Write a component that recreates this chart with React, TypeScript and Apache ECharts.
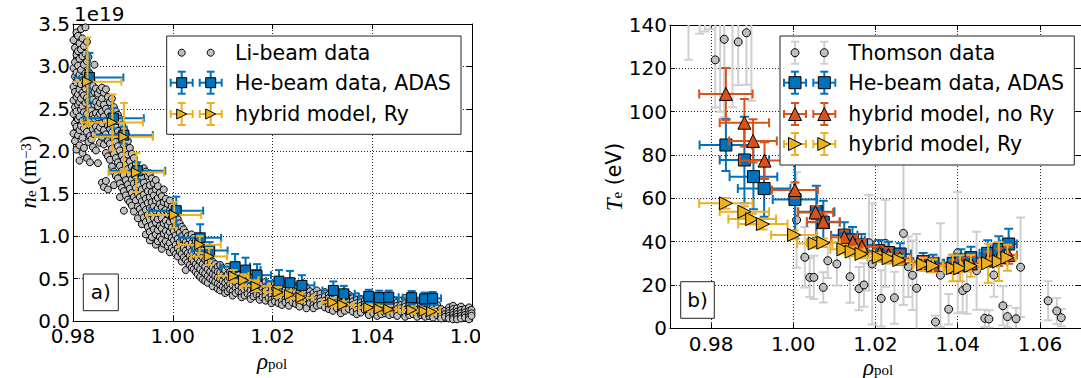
import React, { useEffect, useRef } from "react";
import * as echarts from "echarts";

// ---------------- Panel a) : electron density (units of 1e19 m^-3) ----------------
const xTicksA = [0.98, 1.0, 1.02, 1.04, 1.06];
const yTicksA = [0, 0.5, 1.0, 1.5, 2.0, 2.5, 3.0, 3.5];

// Li-beam data: each row = [rho_pol, n_e values at that rho ...]
const liBeamRows: number[][] = [
  [0.9801, 3.31, 2.98, 2.76, 2.6, 2.44, 2.21],
  [0.9804, 3.22, 3.05, 2.88, 2.7, 2.52, 2.33, 2.12],
  [0.9807, 3.4, 3.14, 2.93, 2.81, 2.64, 2.47, 2.29, 2.02],
  [0.981, 3.36, 3.18, 3.01, 2.85, 2.67, 2.55, 2.38, 2.19],
  [0.9813, 3.27, 3.09, 2.9, 2.73, 2.58, 2.41, 2.25, 2.07, 1.89],
  [0.9816, 3.44, 3.2, 2.96, 2.79, 2.62, 2.49, 2.3],
  [0.9819, 3.33, 3.12, 2.87, 2.69, 2.53, 2.36, 2.16, 1.98],
  [0.9822, 3.24, 3.02, 2.83, 2.66, 2.46, 2.27, 2.04],
  [0.9825, 3.46, 3.15, 2.92, 2.74, 2.57, 2.39],
  [0.9828, 3.29, 3.06, 2.86, 2.63, 2.44, 2.23, 1.92],
  [0.9831, 3.11, 2.94, 2.78, 2.59, 2.35, 2.11],
  [0.9834, 2.91, 2.71, 2.52, 2.37, 2.18, 1.87],
  [0.9837, 2.84, 2.66, 2.48, 2.31, 2.14],
  [0.984, 2.77, 2.61, 2.43, 2.26, 2.05],
  [0.9843, 3.02, 2.7, 2.55, 2.39, 2.2],
  [0.9846, 2.74, 2.58, 2.45, 2.29, 2.01],
  [0.985, 2.68, 2.53, 2.4, 2.24, 1.86],
  [0.9854, 2.72, 2.57, 2.44, 2.28, 2.1],
  [0.9858, 2.75, 2.62, 2.47, 2.33, 2.17, 1.63],
  [0.9862, 2.69, 2.55, 2.41, 2.25, 2.08, 1.58],
  [0.9866, 2.73, 2.5, 2.36, 2.2, 1.98, 1.65],
  [0.987, 2.64, 2.46, 2.3, 2.12, 1.94, 1.55],
  [0.9874, 2.58, 2.41, 2.27, 2.09, 1.9],
  [0.9878, 2.62, 2.37, 2.22, 2.03, 1.82],
  [0.9882, 2.52, 2.33, 2.15, 1.97, 1.76, 1.6],
  [0.9886, 2.47, 2.28, 2.11, 1.92, 1.71],
  [0.989, 2.43, 2.24, 2.06, 1.87, 1.68],
  [0.9894, 2.38, 2.19, 2.01, 1.83, 1.62, 1.46],
  [0.9898, 2.31, 2.14, 1.95, 1.77, 1.57],
  [0.9902, 2.26, 2.08, 1.9, 1.72, 1.53, 1.3],
  [0.9906, 2.2, 2.02, 1.84, 1.66, 1.48],
  [0.991, 2.12, 1.96, 1.79, 1.61, 1.43],
  [0.9914, 2.04, 1.88, 1.73, 1.56, 1.4],
  [0.9918, 1.97, 1.82, 1.67, 1.51, 1.36],
  [0.9922, 1.92, 1.77, 1.62, 1.46, 1.29],
  [0.9926, 1.85, 1.7, 1.57, 1.42],
  [0.993, 1.79, 1.64, 1.5, 1.35, 1.21],
  [0.9934, 1.74, 1.6, 1.46, 1.32],
  [0.9938, 1.69, 1.55, 1.41, 1.27, 1.14],
  [0.9942, 1.8, 1.63, 1.49, 1.36, 1.22],
  [0.9946, 1.76, 1.58, 1.44, 1.31, 1.17, 1.02],
  [0.995, 1.71, 1.53, 1.39, 1.25, 1.11],
  [0.9954, 1.74, 1.6, 1.46, 1.33, 1.19, 1.05, 0.95],
  [0.9958, 1.68, 1.52, 1.4, 1.27, 1.13, 0.99],
  [0.9962, 1.62, 1.48, 1.35, 1.21, 1.08],
  [0.9966, 1.66, 1.55, 1.42, 1.3, 1.16, 1.02, 0.9],
  [0.997, 1.59, 1.45, 1.33, 1.2, 1.07, 0.94],
  [0.9974, 1.51, 1.38, 1.26, 1.12, 0.99],
  [0.9978, 1.47, 1.34, 1.21, 1.09, 0.96, 0.85],
  [0.9982, 1.55, 1.4, 1.29, 1.15, 1.03, 0.91],
  [0.9986, 1.44, 1.31, 1.18, 1.06, 0.94],
  [0.999, 1.38, 1.26, 1.13, 1.01, 0.88],
  [0.9994, 1.42, 1.3, 1.17, 1.05, 0.92, 0.81],
  [0.9998, 1.35, 1.22, 1.1, 0.98, 0.86],
  [1.0002, 1.29, 1.18, 1.06, 0.95, 0.83],
  [1.0006, 1.24, 1.12, 1.01, 0.9, 0.79],
  [1.001, 1.2, 1.08, 0.97, 0.86, 0.76],
  [1.0014, 1.15, 1.04, 0.93, 0.82],
  [1.0018, 1.11, 1.0, 0.89, 0.79, 0.7],
  [1.0022, 1.08, 0.96, 0.86, 0.75],
  [1.0026, 1.04, 0.93, 0.83, 0.72, 0.6],
  [1.003, 1.0, 0.9, 0.8, 0.69],
  [1.0034, 0.97, 0.87, 0.77, 0.66],
  [1.0038, 1.02, 0.92, 0.82, 0.73, 0.63],
  [1.0042, 0.98, 0.88, 0.79, 0.7, 0.61],
  [1.0046, 0.94, 0.85, 0.76, 0.67, 0.58],
  [1.005, 0.91, 0.82, 0.73, 0.64, 0.55],
  [1.0055, 0.87, 0.78, 0.7, 0.61, 0.52],
  [1.006, 0.83, 0.75, 0.67, 0.58, 0.49],
  [1.0065, 0.8, 0.72, 0.64, 0.56, 0.47],
  [1.007, 0.76, 0.69, 0.61, 0.53, 0.45],
  [1.0075, 0.73, 0.66, 0.58, 0.5],
  [1.008, 0.7, 0.63, 0.55, 0.48, 0.41],
  [1.0085, 0.67, 0.6, 0.53, 0.46],
  [1.009, 0.64, 0.58, 0.51, 0.44, 0.38],
  [1.0095, 0.66, 0.57, 0.49, 0.42, 0.36],
  [1.01, 0.62, 0.54, 0.47, 0.4],
  [1.0105, 0.6, 0.52, 0.45, 0.38, 0.33],
  [1.011, 0.64, 0.55, 0.48, 0.41, 0.35],
  [1.0115, 0.58, 0.5, 0.43, 0.37],
  [1.012, 0.56, 0.48, 0.42, 0.35, 0.3],
  [1.0126, 0.6, 0.52, 0.45, 0.39, 0.33],
  [1.0132, 0.54, 0.47, 0.41, 0.35],
  [1.0138, 0.51, 0.45, 0.39, 0.33, 0.28],
  [1.0144, 0.55, 0.48, 0.42, 0.36, 0.3],
  [1.015, 0.5, 0.44, 0.38, 0.32],
  [1.0156, 0.47, 0.41, 0.36, 0.3, 0.26],
  [1.0162, 0.52, 0.45, 0.39, 0.34, 0.29],
  [1.0168, 0.48, 0.42, 0.37, 0.31],
  [1.0174, 0.45, 0.4, 0.35, 0.3, 0.25],
  [1.018, 0.43, 0.38, 0.33, 0.28],
  [1.0186, 0.46, 0.4, 0.35, 0.29, 0.24],
  [1.0192, 0.42, 0.37, 0.32, 0.27],
  [1.0198, 0.4, 0.35, 0.3, 0.25, 0.21],
  [1.0205, 0.44, 0.38, 0.33, 0.28, 0.23],
  [1.0212, 0.41, 0.36, 0.31, 0.26, 0.21],
  [1.0219, 0.39, 0.34, 0.29, 0.24, 0.19],
  [1.0226, 0.42, 0.36, 0.31, 0.26, 0.22],
  [1.0233, 0.38, 0.33, 0.28, 0.23, 0.18],
  [1.024, 0.36, 0.31, 0.27, 0.22],
  [1.0247, 0.39, 0.34, 0.29, 0.25, 0.2],
  [1.0254, 0.35, 0.3, 0.26, 0.21, 0.17],
  [1.0261, 0.37, 0.32, 0.27, 0.23],
  [1.0268, 0.4, 0.34, 0.29, 0.24, 0.19, 0.15],
  [1.0275, 0.35, 0.3, 0.25, 0.21],
  [1.0282, 0.33, 0.28, 0.24, 0.19, 0.15],
  [1.0289, 0.36, 0.31, 0.26, 0.22, 0.18],
  [1.0296, 0.32, 0.27, 0.23, 0.19],
  [1.0305, 0.34, 0.29, 0.24, 0.2, 0.16],
  [1.0313, 0.31, 0.27, 0.22, 0.18, 0.14],
  [1.0321, 0.38, 0.3, 0.25, 0.21, 0.17, 0.12],
  [1.0329, 0.33, 0.28, 0.23, 0.19, 0.15],
  [1.0337, 0.3, 0.26, 0.21, 0.17, 0.13, 0.09],
  [1.0345, 0.28, 0.24, 0.2, 0.16, 0.12],
  [1.0353, 0.31, 0.26, 0.22, 0.18, 0.14],
  [1.0361, 0.27, 0.23, 0.19, 0.15, 0.11],
  [1.0369, 0.29, 0.25, 0.21, 0.17, 0.13, 0.08],
  [1.0377, 0.26, 0.22, 0.18, 0.14, 0.1],
  [1.0385, 0.24, 0.2, 0.17, 0.13],
  [1.0393, 0.27, 0.23, 0.19, 0.15, 0.11, 0.07],
  [1.0402, 0.25, 0.21, 0.17, 0.13, 0.09],
  [1.041, 0.28, 0.22, 0.18, 0.14, 0.1, 0.06],
  [1.0418, 0.24, 0.2, 0.16, 0.12, 0.08],
  [1.0426, 0.26, 0.21, 0.17, 0.13, 0.09],
  [1.0434, 0.23, 0.19, 0.15, 0.11, 0.07],
  [1.0442, 0.25, 0.2, 0.16, 0.12, 0.08],
  [1.045, 0.22, 0.18, 0.14, 0.1, 0.06],
  [1.0458, 0.24, 0.19, 0.15, 0.11],
  [1.0466, 0.27, 0.21, 0.17, 0.13, 0.09, 0.05],
  [1.0474, 0.23, 0.18, 0.14, 0.1, 0.07],
  [1.0482, 0.25, 0.2, 0.16, 0.12, 0.08],
  [1.049, 0.22, 0.17, 0.13, 0.09, 0.05],
  [1.0498, 0.24, 0.19, 0.15, 0.11, 0.07],
  [1.0506, 0.21, 0.17, 0.13, 0.09, 0.05],
  [1.0514, 0.23, 0.18, 0.14, 0.1, 0.06],
  [1.0522, 0.2, 0.16, 0.12, 0.08, 0.04],
  [1.053, 0.19, 0.15, 0.11, 0.07],
  [1.0538, 0.14, 0.1, 0.06, 0.03],
  [1.0546, 0.12, 0.08, 0.05],
  [1.0554, 0.16, 0.12, 0.09, 0.06, 0.03],
  [1.0562, 0.18, 0.14, 0.1, 0.07, 0.04, 0.02],
  [1.057, 0.15, 0.11, 0.08, 0.05, 0.02],
  [1.0578, 0.17, 0.13, 0.09, 0.06, 0.03],
  [1.0586, 0.14, 0.1, 0.07, 0.04],
  [1.0594, 0.16, 0.12, 0.08, 0.05, 0.02],
  [1.0599, 0.13, 0.09, 0.06],
];

// He-beam data, ADAS (panel a)
const heNeX = [0.9833, 0.9881, 0.9902, 0.9929, 1.0007, 1.0055, 1.0074, 1.0125, 1.0146, 1.0169, 1.0213, 1.0235, 1.0259, 1.0322, 1.0343, 1.0393, 1.0414, 1.0433, 1.0479, 1.0505, 1.0521];
const heNe = [2.87, 2.39, 2.19, 1.77, 1.3, 0.98, 0.83, 0.64, 0.6, 0.54, 0.47, 0.45, 0.42, 0.36, 0.32, 0.29, 0.275, 0.28, 0.275, 0.26, 0.267];
const heNeErr = [0.29, 0.12, 0.1, 0.1, 0.165, 0.16, 0.1, 0.15, 0.146, 0.13, 0.13, 0.14, 0.12, 0.106, 0.094, 0.078, 0.082, 0.078, 0.078, 0.075, 0.075];
const heNeXErr = [0.0068, 0.0061, 0.0058, 0.0056, 0.0054, 0.0042, 0.0036, 0.003, 0.003, 0.0028, 0.0026, 0.0026, 0.0025, 0.0022, 0.0022, 0.002, 0.002, 0.002, 0.0018, 0.0018, 0.0017];

// hybrid model, Ry (panel a)
const ryNeX = [0.9829, 0.9879, 0.9902, 0.9927, 1.0003, 1.0054, 1.0073, 1.0122, 1.0142, 1.0167, 1.0211, 1.0234, 1.0257, 1.0321, 1.0341, 1.0393, 1.0414, 1.0433, 1.0479, 1.0504, 1.0519];
const ryNe = [2.82, 2.34, 2.17, 1.75, 1.25, 0.9, 0.76, 0.53, 0.48, 0.41, 0.34, 0.31, 0.275, 0.22, 0.19, 0.157, 0.141, 0.138, 0.13, 0.114, 0.11];
const ryNeErr = [0.52, 0.33, 0.4, 0.23, 0.15, 0.1, 0.1, 0.07, 0.07, 0.06, 0.06, 0.05, 0.05, 0.05, 0.04, 0.04, 0.04, 0.04, 0.04, 0.035, 0.035];
const ryNeXErr = [0.0068, 0.0061, 0.0058, 0.0056, 0.0054, 0.0042, 0.0036, 0.003, 0.003, 0.0028, 0.0026, 0.0026, 0.0025, 0.0022, 0.0022, 0.002, 0.002, 0.002, 0.0018, 0.0018, 0.0017];

// ---------------- Panel b) : electron temperature (eV) ----------------
const xTicksB = [0.98, 1.0, 1.02, 1.04, 1.06];
const yTicksB = [0, 20, 40, 60, 80, 100, 120, 140];
const xRangeB = [0.97, 1.07];

// Thomson data
const thX = [0.9745, 0.9772, 0.9785, 0.9798, 0.981, 0.9822, 0.9832, 0.9852, 0.9866, 0.9886, 0.9898, 1.0008, 1.0028, 1.004, 1.005, 1.0073, 1.0084, 1.0106, 1.0138, 1.016, 1.0172, 1.0184, 1.0192, 1.0214, 1.0224, 1.0246, 1.0268, 1.028, 1.029, 1.03, 1.0346, 1.0358, 1.0378, 1.04, 1.0412, 1.0422, 1.0446, 1.0466, 1.0476, 1.0488, 1.051, 1.0521, 1.0542, 1.0553, 1.062, 1.0641, 1.0652];
const thTe = [152, 160, 165, 152, 123.9, 148, 133.4, 142, 132.2, 136.4, 150, 50, 32.8, 23.5, 23.5, 18.9, 31.2, 29.7, 23.8, 18.3, 20, 39.5, 29.7, 13.8, 39.2, 14.1, 43.8, 28.4, 24.5, 18.5, 2.9, 24.5, 8.8, 34.9, 17.4, 18.7, 26.6, 4.6, 4.3, 24.6, 10.4, 5.4, 4.4, 28.2, 12.7, 8, 4.9];
const thTeErr = [28, 24, 28, 14, 22, 48, 36, 40, 20, 24, 45, 22, 14, 9, 10, 7, 8, 10, 12, 10, 10, 22, 28, 13, 20, 12, 33, 14, 16, 25, 3, 24, 7, 28, 10, 12, 18, 4, 4, 10, 9, 5, 5, 23, 9, 6, 4];

// He-beam data, ADAS (panel b)
const heTeX = [0.9836, 0.9881, 0.9903, 0.9929, 1.0004, 1.0056, 1.0073, 1.0124, 1.0144, 1.0166, 1.0208, 1.0232, 1.026, 1.0316, 1.034, 1.0389, 1.0408, 1.0432, 1.0473, 1.05, 1.0524];
const heTe = [84.6, 77.7, 70.0, 64.5, 59.5, 53.8, 48.9, 43.0, 40.8, 38.5, 35.8, 35.0, 34.3, 30.8, 30.0, 30.0, 31.5, 32.6, 34.6, 36.5, 38.9];
const heTeErr = [12, 20, 15, 13, 18, 12, 10, 6, 6, 5, 5, 5, 5, 4, 4, 4, 5, 5, 6, 6, 7];
const heTeXErr = [0.0064, 0.006, 0.0058, 0.0064, 0.0054, 0.0044, 0.004, 0.0032, 0.003, 0.003, 0.0028, 0.0027, 0.0026, 0.0024, 0.0024, 0.0022, 0.0022, 0.0022, 0.002, 0.002, 0.002];

// hybrid model, no Ry (panel b)
const noRyTeX = [0.9836, 0.9881, 0.9902, 0.993, 1.0004, 1.0054, 1.0073, 1.0124, 1.0145, 1.0167, 1.021, 1.0232, 1.026, 1.0316, 1.034, 1.0389, 1.0408, 1.0432, 1.0473, 1.05, 1.0524];
const noRyTe = [108.2, 94.9, 86.5, 77.4, 63.8, 53.5, 49.2, 42.0, 39.7, 37.7, 34.6, 33.8, 32.3, 30.0, 29.3, 28.4, 29.3, 30.0, 31.8, 32.8, 33.8];
const noRyTeErr = [12, 11, 10, 8.5, 3.5, 3, 3, 3, 3, 3, 3, 3, 3, 3, 3, 3, 3, 3, 3.5, 4, 4];
const noRyTeXErr = [0.0065, 0.006, 0.0058, 0.006, 0.0056, 0.0043, 0.004, 0.0032, 0.003, 0.003, 0.0028, 0.0027, 0.0026, 0.0024, 0.0024, 0.0022, 0.0022, 0.0022, 0.002, 0.002, 0.002];

// hybrid model, Ry (panel b)
const ryTeX = [0.9836, 0.9881, 0.99, 0.9926, 1.0002, 1.0052, 1.0073, 1.0122, 1.0142, 1.0166, 1.0208, 1.0232, 1.0258, 1.0316, 1.034, 1.0388, 1.0406, 1.0432, 1.0474, 1.05, 1.0521];
const ryTe = [57.7, 53.8, 50.4, 48.1, 43.1, 39.2, 39.5, 36.5, 35.4, 34.3, 32.8, 32.3, 31.5, 29.5, 28.8, 27.7, 27.7, 28.8, 30.0, 30.8, 32.6];
const ryTeErr = [2.5, 2.5, 2.5, 2.5, 2, 2, 2, 2, 2, 2, 2, 2, 2, 3, 3, 6, 6, 5, 9, 9, 6];
const ryTeXErr = [0.0065, 0.006, 0.0058, 0.006, 0.0056, 0.0043, 0.004, 0.0032, 0.003, 0.003, 0.0028, 0.0027, 0.0026, 0.0024, 0.0024, 0.0022, 0.0022, 0.0022, 0.002, 0.002, 0.002];

// ---------------- styling ----------------
const BLUE = "#0072bd";
const RED = "#d95319";
const YELLOW = "#edb120";
const GRAY = "#bfbfbf";
const ERRGRAY = "#cfcfcf";
const SANS = "DejaVu Sans";
const SERIF = "Liberation Serif";
const TRI_RIGHT = "path://M0,0L2,1L0,2Z";

function rows(xs: number[], ys: number[], xe: number[] | null, ye: number[]) {
  return xs.map((x, i) => [x, ys[i], xe ? xe[i] : 0, ye[i]]);
}

function errorBars(data: number[][], xi: number, yi: number, color: string, lw: number, cap: number, z: number) {
  return {
    type: "custom",
    xAxisIndex: xi,
    yAxisIndex: yi,
    z,
    clip: true,
    silent: true,
    data,
    encode: { x: 0, y: 1 },
    renderItem: (_p: any, api: any) => {
      const x = api.value(0), y = api.value(1), xe = api.value(2), ye = api.value(3);
      const c = api.coord([x, y]);
      const ch: any[] = [];
      const st = { stroke: color, lineWidth: lw, fill: null };
      const ln = (x1: number, y1: number, x2: number, y2: number) =>
        ch.push({ type: "line", shape: { x1, y1, x2, y2 }, style: st });
      if (xe > 0) {
        const l = api.coord([x - xe, y])[0];
        const r = api.coord([x + xe, y])[0];
        ln(l, c[1], r, c[1]);
        ln(l, c[1] - cap, l, c[1] + cap);
        ln(r, c[1] - cap, r, c[1] + cap);
      }
      if (ye > 0) {
        const t = api.coord([x, y + ye])[1];
        const b = api.coord([x, y - ye])[1];
        ln(c[0], t, c[0], b);
        ln(c[0] - cap, t, c[0] + cap, t);
        ln(c[0] - cap, b, c[0] + cap, b);
      }
      return { type: "group", children: ch };
    },
  };
}

function markers(data: number[][], xi: number, yi: number, symbol: string, size: number, color: string, z: number) {
  return {
    type: "scatter",
    xAxisIndex: xi,
    yAxisIndex: yi,
    z,
    clip: true,
    silent: true,
    symbol,
    symbolSize: size,
    data: data.map((d) => [d[0], d[1]]),
    itemStyle: { color, borderColor: "#000", borderWidth: 1, opacity: 1 },
  };
}

function xAxisDef(grid: number, ticks: number[], range: number[] | null, pos: "bottom" | "top", margin: number) {
  const isMain = pos === "bottom";
  const ax: any = {
    type: "value",
    gridIndex: grid,
    position: pos,
    min: range ? range[0] : ticks[0],
    max: range ? range[1] : ticks[ticks.length - 1],
    axisLine: { show: true, onZero: false, lineStyle: { color: "#000", width: 1 } },
    axisTick: { show: true, inside: true, length: 5, lineStyle: { color: "#000", width: 1 } },
    axisLabel: {
      show: isMain,
      margin,
      color: "#000",
      fontFamily: SANS,
      fontSize: 20,
      formatter: (v: number) => v.toFixed(2),
    },
    splitLine: { show: isMain, lineStyle: { color: "#222", type: [1, 2], width: 1 } },
  };
  if (range) {
    ax.axisLabel.customValues = ticks;
    ax.axisTick.customValues = ticks;
  } else {
    ax.interval = ticks[1] - ticks[0];
  }
  return ax;
}

function yAxisDef(grid: number, ticks: number[], pos: "left" | "right", digits: number) {
  const isMain = pos === "left";
  return {
    type: "value",
    gridIndex: grid,
    position: pos,
    min: ticks[0],
    max: ticks[ticks.length - 1],
    interval: ticks[1] - ticks[0],
    axisLine: { show: true, onZero: false, lineStyle: { color: "#000", width: 1 } },
    axisTick: { show: true, inside: true, length: 5, lineStyle: { color: "#000", width: 1 } },
    axisLabel: {
      show: isMain,
      margin: 3,
      color: "#000",
      fontFamily: SANS,
      fontSize: 20,
      formatter: (v: number) => v.toFixed(digits),
    },
    splitLine: { show: isMain, lineStyle: { color: "#222", type: [1, 2], width: 1 } },
  };
}

function markerShape(kind: string, cx: number, cy: number, s: number, fill: string): any {
  const style = { fill, stroke: "#000", lineWidth: 1 };
  const h = s / 2;
  if (kind === "circle") return { type: "circle", z: 103, shape: { cx, cy, r: h }, style };
  if (kind === "square") return { type: "rect", z: 103, shape: { x: cx - h, y: cy - h, width: s, height: s }, style };
  if (kind === "triUp")
    return { type: "polygon", z: 103, shape: { points: [[cx, cy - h], [cx + h, cy + h], [cx - h, cy + h]] }, style };
  return { type: "polygon", z: 103, shape: { points: [[cx + h, cy], [cx - h, cy - h], [cx - h, cy + h]] }, style };
}

type Entry = { y: number; label: string; kind: string; size: number; fill: string; err: string | null; xErr: boolean };

function legend(x: number, y: number, w: number, h: number, mx: number[], tx: number, entries: Entry[]) {
  const els: any[] = [
    { type: "rect", z: 100, shape: { x, y, width: w, height: h }, style: { fill: "#fff", stroke: "#222", lineWidth: 1 } },
  ];
  entries.forEach((e) => {
    mx.forEach((cx) => {
      if (e.err) {
        const st = { stroke: e.err, lineWidth: 2 };
        const L = 11, C = 4;
        if (e.xErr) {
          els.push({ type: "line", z: 101, shape: { x1: cx - L, y1: e.y, x2: cx + L, y2: e.y }, style: st });
          els.push({ type: "line", z: 101, shape: { x1: cx - L, y1: e.y - C, x2: cx - L, y2: e.y + C }, style: st });
          els.push({ type: "line", z: 101, shape: { x1: cx + L, y1: e.y - C, x2: cx + L, y2: e.y + C }, style: st });
        }
        els.push({ type: "line", z: 101, shape: { x1: cx, y1: e.y - L, x2: cx, y2: e.y + L }, style: st });
        els.push({ type: "line", z: 101, shape: { x1: cx - C, y1: e.y - L, x2: cx + C, y2: e.y - L }, style: st });
        els.push({ type: "line", z: 101, shape: { x1: cx - C, y1: e.y + L, x2: cx + C, y2: e.y + L }, style: st });
      }
      els.push(markerShape(e.kind, cx, e.y, e.size, e.fill));
    });
    els.push({
      type: "text",
      z: 104,
      x: tx,
      y: e.y,
      style: { text: e.label, fill: "#000", fontFamily: SANS, fontSize: 20.5, align: "left", verticalAlign: "middle", textAlign: "left", textVerticalAlign: "middle" },
    });
  });
  return els;
}

function boxLabel(x: number, y: number, w: number, h: number, t: string) {
  return [
    { type: "rect", z: 100, shape: { x, y, width: w, height: h }, style: { fill: "#fff", stroke: "#222", lineWidth: 1 } },
    {
      type: "text", z: 101, x: x + w / 2, y: y + h / 2,
      style: { text: t, fill: "#000", fontFamily: SANS, fontSize: 20, align: "center", verticalAlign: "middle", textAlign: "center", textVerticalAlign: "middle" },
    },
  ];
}

const mainTok = { fontFamily: SERIF, fontSize: 23, lineHeight: 20, fill: "#000", color: "#000" };
const smallTok = { fontFamily: SERIF, fontSize: 15, lineHeight: 10, fill: "#000", color: "#000" };

function richTitle(x: number, y: number, text: string, rot: number) {
  return {
    type: "text",
    z: 50,
    x,
    y,
    rotation: rot,
    style: {
      text,
      align: "center",
      verticalAlign: "middle",
      textAlign: "center",
      textVerticalAlign: "middle",
      fill: "#000",
      rich: {
        i: { ...mainTok, fontStyle: "italic" },
        r: { ...mainTok },
        s: { ...smallTok, verticalAlign: "bottom" },
        p: { ...smallTok, verticalAlign: "top" },
        t: { fontFamily: SANS, fontSize: 20.5, lineHeight: 20, fill: "#000", color: "#000" },
      },
    },
  };
}

export default function App() {
  const ref = useRef<HTMLDivElement>(null);
  useEffect(() => {
    if (!ref.current) return;
    const chart = echarts.init(ref.current, null, { renderer: "svg" });

    const liData = liBeamRows.flatMap((r) => r.slice(1).map((v) => [r[0], v]));
    const heA = rows(heNeX, heNe, heNeXErr, heNeErr);
    const ryA = rows(ryNeX, ryNe, ryNeXErr, ryNeErr);
    const thB = rows(thX, thTe, null, thTeErr);
    const heB = rows(heTeX, heTe, heTeXErr, heTeErr);
    const noB = rows(noRyTeX, noRyTe, noRyTeXErr, noRyTeErr);
    const ryB = rows(ryTeX, ryTe, ryTeXErr, ryTeErr);

    const option: any = {
      animation: false,
      backgroundColor: "#ffffff",
      grid: [
        { left: 73, top: 24, width: 399, height: 297 },
        { left: 670, top: 25, width: 416, height: 303.3 },
      ],
      xAxis: [
        xAxisDef(0, xTicksA, null, "bottom", 5),
        xAxisDef(0, xTicksA, null, "top", 5),
        xAxisDef(1, xTicksB, xRangeB, "bottom", 6),
        xAxisDef(1, xTicksB, xRangeB, "top", 6),
      ],
      yAxis: [
        yAxisDef(0, yTicksA, "left", 1),
        yAxisDef(0, yTicksA, "right", 1),
        yAxisDef(1, yTicksB, "left", 0),
        yAxisDef(1, yTicksB, "right", 0),
      ],
      series: [
        markers(liData, 0, 0, "circle", 7, GRAY, 2),
        errorBars(heA, 0, 0, BLUE, 2, 4, 3),
        markers(heA, 0, 0, "rect", 10, BLUE, 4),
        errorBars(ryA, 0, 0, YELLOW, 2, 4, 5),
        markers(ryA, 0, 0, TRI_RIGHT, 10, YELLOW, 6),

        errorBars(thB, 2, 2, ERRGRAY, 2, 4.5, 2),
        markers(thB, 2, 2, "circle", 8, GRAY, 3),
        errorBars(heB, 2, 2, BLUE, 2, 4.5, 4),
        markers(heB, 2, 2, "rect", 12, BLUE, 5),
        errorBars(noB, 2, 2, RED, 2, 4.5, 6),
        markers(noB, 2, 2, "triangle", 13, RED, 7),
        errorBars(ryB, 2, 2, YELLOW, 2, 4.5, 8),
        markers(ryB, 2, 2, TRI_RIGHT, 13, YELLOW, 9),
      ],
      graphic: [
        // crop of the left panel's last tick label
        { type: "rect", z: 120, shape: { x: 480, y: 323, width: 60, height: 55 }, style: { fill: "#fff" } },
        {
          type: "text", z: 50, x: 74, y: 14,
          style: { text: "1e19", fill: "#000", fontFamily: SANS, fontSize: 20, align: "left", verticalAlign: "middle", textAlign: "left", textVerticalAlign: "middle" },
        },
        richTitle(272, 361, "{i|ρ}{s|pol}", 0),
        richTitle(878, 367, "{i|ρ}{s|pol}", 0),
        richTitle(28, 172, "{i|n}{s|e}{r| (m}{p|−3}{r|)}", Math.PI / 2),
        richTitle(614, 177, "{i|T}{s|e}{t| (eV)}", Math.PI / 2),
        ...boxLabel(83.3, 274, 35, 36.7, "a)"),
        ...boxLabel(680.7, 281.7, 33.6, 36.6, "b)"),
        ...legend(166.7, 36, 294.3, 98.3, [181.7, 210.7], 235, [
          { y: 52.7, label: "Li-beam data", kind: "circle", size: 7, fill: GRAY, err: null, xErr: false },
          { y: 82.7, label: "He-beam data, ADAS", kind: "square", size: 10, fill: BLUE, err: BLUE, xErr: true },
          { y: 114, label: "hybrid model, Ry", kind: "triRight", size: 10, fill: YELLOW, err: YELLOW, xErr: true },
        ]),
        ...legend(780, 36, 294.3, 129, [795, 824.3], 848.3, [
          { y: 52.7, label: "Thomson data", kind: "circle", size: 8, fill: GRAY, err: ERRGRAY, xErr: false },
          { y: 82.7, label: "He-beam data, ADAS", kind: "square", size: 12, fill: BLUE, err: BLUE, xErr: true },
          { y: 114, label: "hybrid model, no Ry", kind: "triUp", size: 13, fill: RED, err: RED, xErr: true },
          { y: 144, label: "hybrid model, Ry", kind: "triRight", size: 13, fill: YELLOW, err: YELLOW, xErr: true },
        ]),
      ],
    };
    chart.setOption(option);
    return () => chart.dispose();
  }, []);
  return (
    <div
      ref={ref}
      style={{ position: "absolute", left: 0, top: 0, width: 1081, height: 378, background: "#fff" }}
    />
  );
}
